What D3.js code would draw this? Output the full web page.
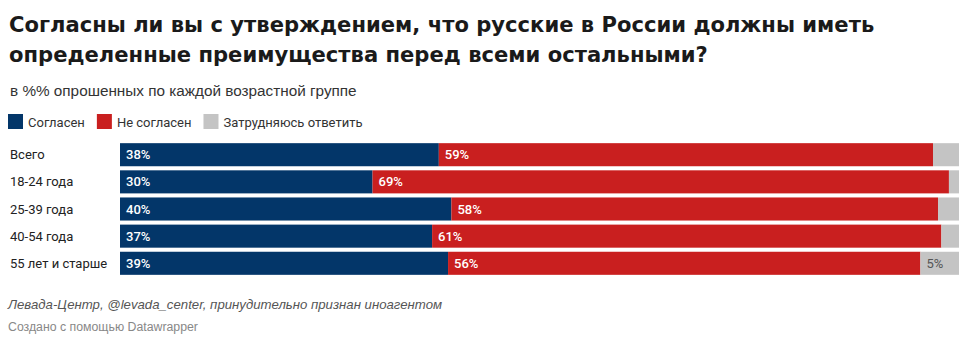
<!DOCTYPE html>
<html><head><meta charset="utf-8">
<script src="https://cdn.jsdelivr.net/npm/d3@7"></script>
<style>
body{margin:0;background:#fff;}
svg{display:block;}
</style></head>
<body>
<svg id="chart" width="972" height="341"></svg>
<script>
const categories = ["Всего","18-24 года","25-39 года","40-54 года","55 лет и старше"];
const agree = [38.0,30.1,39.5,37.2,39.1];
const disagree = [58.9,68.7,58.0,60.7,56.3];
const unsure = [3.1,1.2,2.5,2.1,4.6];
const seriesNames = ["Согласен","Не согласен","Затрудняюсь ответить"];
const colors = ["#033669","#c91f1f","#c4c4c4"];
const titleLines = ["Согласны ли вы с утверждением, что русские в России должны иметь","определенные преимущества перед всеми остальными?"];
const subtitle = "в %% опрошенных по каждой возрастной группе";
const source = "Левада-Центр, @levada_center, принудительно признан иноагентом";
const credit = "Создано с помощью Datawrapper";

const svg = d3.select("#chart");
const font = "Roboto, 'Liberation Sans', Arial, sans-serif";
const arial = "'Liberation Sans', Arial, sans-serif";

svg.selectAll("text.title").data(titleLines).join("text")
  .attr("x",9).attr("y",(d,i)=>32+i*30)
  .attr("font-family","'DejaVu Sans', sans-serif")
  .attr("font-weight","bold").attr("font-size",21.1).attr("fill","#1a1a1a")
  .text(d=>d);

svg.append("text").attr("x",10).attr("y",96)
  .attr("font-family",arial).attr("font-size",15.3).attr("fill","#333").text(subtitle);

// legend
let lx = 8;
seriesNames.forEach((n,i)=>{
  svg.append("rect").attr("x",lx).attr("y",114).attr("width",15).attr("height",15).attr("fill",colors[i]);
  const t = svg.append("text").attr("x",lx+20).attr("y",126.5)
    .attr("font-family",font).attr("font-size",13).attr("fill","#333").text(n);
  lx += 20 + t.node().getComputedTextLength() + 12;
});

const x = d3.scaleLinear().domain([0,100]).range([120,959]);
const y = d3.scaleBand().domain(categories).range([141,277]).paddingInner(0.15).paddingOuter(0.08);
const fmt = v => d3.format(".0f")(v) + "%";

const data = categories.map((c,i)=>({cat:c, vals:[agree[i],disagree[i],unsure[i]]}));
const rows = svg.selectAll("g.row").data(data).join("g").attr("class","row");

rows.append("text").attr("x",10).attr("y",d=>y(d.cat)+y.bandwidth()/2+4.5)
  .attr("font-family",font).attr("font-size",13).attr("fill","#222").text(d=>d.cat);

rows.each(function(d){
  const g = d3.select(this);
  let cum = 0;
  d.vals.forEach((v,j)=>{
    const x0 = x(cum), x1 = x(cum+v);
    g.append("rect").attr("x",x0).attr("y",y(d.cat)).attr("width",x1-x0).attr("height",y.bandwidth()).attr("fill",colors[j]);
    const showLabel = j<2 || v>=4;
    if(showLabel){
      g.append("text").attr("x",x0+6).attr("y",y(d.cat)+y.bandwidth()/2+4.5)
        .attr("font-family",font).attr("font-size",13).attr("font-weight",j<2?500:400)
        .attr("fill",j<2?"#fff":"#555").text(fmt(v));
    }
    cum += v;
  });
});

svg.append("text").attr("x",8).attr("y",309)
  .attr("font-family",arial).attr("font-size",13.2).attr("font-style","italic").attr("fill","#555").text(source);
svg.append("text").attr("x",8).attr("y",331)
  .attr("font-family",arial).attr("font-size",12.3).attr("fill","#888").text(credit);
</script>
</body></html>
